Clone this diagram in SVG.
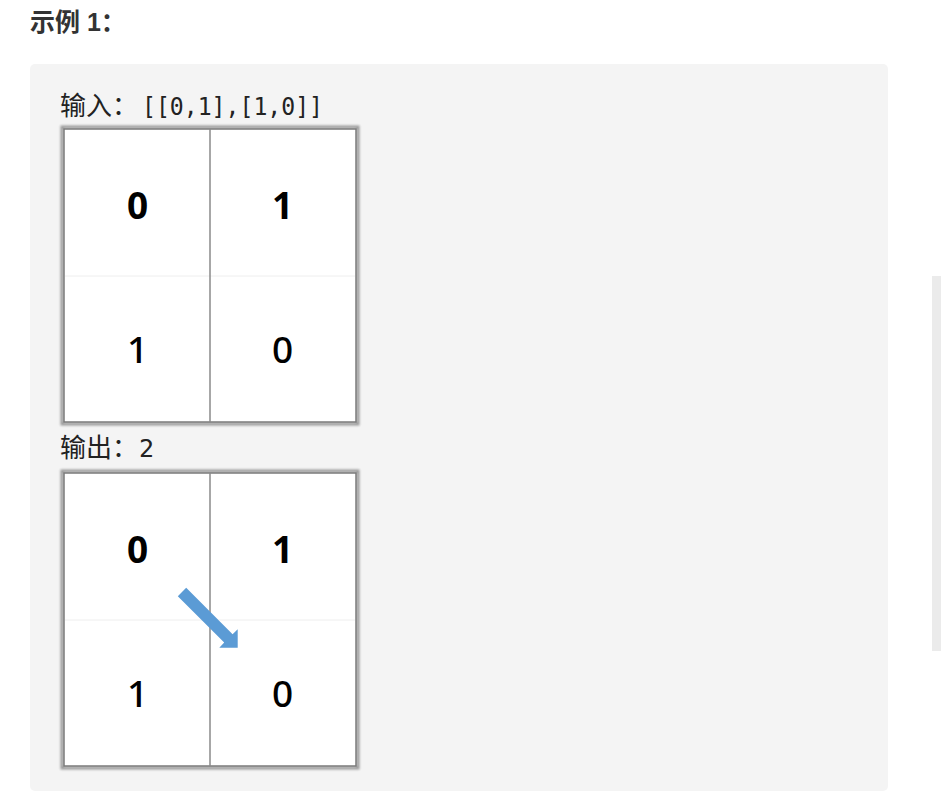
<svg xmlns="http://www.w3.org/2000/svg" width="941" height="812" viewBox="0 0 941 812">
<defs>
<style>
.title{font-family:"Liberation Sans","Noto Sans CJK SC",sans-serif;font-size:25px;font-weight:bold;fill:#333}
.cjk{font-family:"Noto Sans CJK SC",sans-serif;font-size:26px;fill:#222}
.mono{font-family:"DejaVu Sans Mono","Liberation Mono",monospace;font-size:25px;fill:#222}
.digb{font-family:"Noto Sans","Open Sans",sans-serif;font-size:37px;font-weight:700;fill:#000;text-anchor:middle}
.dig{font-family:"Noto Sans","Open Sans",sans-serif;font-size:37px;font-weight:500;fill:#000;text-anchor:middle}
.cell{fill:#fff}
.vdiv{stroke:#8a8a8a;stroke-width:1.5}
.hdiv{stroke:#eeeeee;stroke-width:1}
</style>
<filter id="sh" x="-5%" y="-5%" width="110%" height="110%">
<feGaussianBlur stdDeviation="1.2"/>
</filter>
</defs>
<rect x="0" y="0" width="941" height="812" fill="#fff"/>
<text class="title" x="30" y="31">示例 1：</text>
<rect x="30" y="64" width="858" height="727" rx="5" fill="#f4f4f4"/>
<rect x="932" y="276" width="9" height="375" fill="#ebebeb"/>
<g id="input-label">
<text class="cjk" x="60" y="115">输入：</text>
<text class="mono" x="142" y="115" textLength="181" lengthAdjust="spacingAndGlyphs">[[0,1],[1,0]]</text>
</g>
<g id="grid-input">
<rect x="62" y="127" width="296" height="297" fill="none" stroke="#999" stroke-width="3" filter="url(#sh)"/>
<rect x="64" y="129" width="292" height="293" class="cell" stroke="#7a7a7a" stroke-width="1.5"/>
<line class="hdiv" x1="65" y1="276" x2="355" y2="276"/>
<line class="vdiv" x1="210" y1="129" x2="210" y2="422"/>
<text class="digb" x="137.5" y="219">0</text>
<text class="digb" x="282.5" y="219">1</text>
<text class="dig" x="137.5" y="363">1</text>
<text class="dig" x="282.5" y="363">0</text>
</g>
<g id="output-label">
<text class="cjk" x="60" y="457">输出：</text>
<text class="mono" x="139" y="457">2</text>
</g>
<g id="grid-output">
<rect x="62" y="471" width="296" height="297" fill="none" stroke="#999" stroke-width="3" filter="url(#sh)"/>
<rect x="64" y="473" width="292" height="293" class="cell" stroke="#7a7a7a" stroke-width="1.5"/>
<line class="hdiv" x1="65" y1="620" x2="355" y2="620"/>
<line class="vdiv" x1="210" y1="473" x2="210" y2="766"/>
<text class="digb" x="137.5" y="563">0</text>
<text class="digb" x="282.5" y="563">1</text>
<text class="dig" x="137.5" y="707">1</text>
<text class="dig" x="282.5" y="707">0</text>
</g>
<g id="connectors">
<polygon points="186.2,587.8 232.6,634.2 237.7,629.3 237.7,647.7 219.3,647.7 224.2,642.6 177.8,596.2" fill="#5b9bd5"/>
</g>
</svg>
